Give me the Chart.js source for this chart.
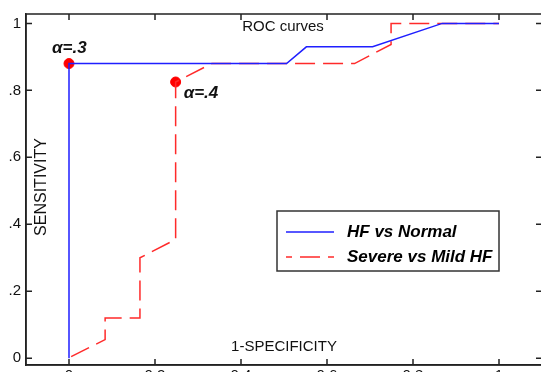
<!DOCTYPE html>
<html>
<head>
<meta charset="utf-8">
<style>
  html, body { margin: 0; padding: 0; background: #fff; overflow: hidden; }
</style>
</head>
<body>
<canvas id="rocChart" width="548" height="392"></canvas>
<script src="https://cdn.jsdelivr.net/npm/chart.js"></script>
<script>
    // ROC curve points (1-specificity, sensitivity)
    const hfNormalX = [0, 0, 0.506, 0.552, 0.706, 0.868, 1];
    const hfNormalY = [0, 0.88, 0.88, 0.93, 0.93, 1, 1];
    const severeMildX = [0.005, 0.084, 0.084, 0.165, 0.165, 0.248, 0.248, 0.332, 0.664, 0.749, 0.749, 1];
    const severeMildY = [0.005, 0.056, 0.12, 0.12, 0.30, 0.355, 0.825, 0.88, 0.88, 0.937, 1, 1];
    const seriesNames = ['HF vs Normal', 'Severe vs Mild HF'];

    // marked operating points and their labels
    const alphaX = [0, 0.248];
    const alphaY = [0.88, 0.825];
    const alphaLabels = ['\u03b1=.3', '\u03b1=.4'];

    const xTicks = [0, 0.2, 0.4, 0.6, 0.8, 1];
    const xTickLabels = ['0', '0.2', '0.4', '0.6', '0.8', '1'];
    const yTicks = [0, 0.2, 0.4, 0.6, 0.8, 1];
    const yTickLabels = ['0', '.2', '.4', '.6', '.8', '1'];

    const FONT = "Arial, 'Liberation Sans', sans-serif";
    const BLUE = '#1f1fff';
    const RED = '#ff2a2a';

    const toPts = (xs, ys) => xs.map((x, i) => ({ x: x, y: ys[i] }));

    const matlabAxes = {
        id: 'matlabAxes',
        afterDraw(chart) {
            const { ctx, chartArea: a, scales: { x, y } } = chart;
            ctx.save();
            // box + inward ticks
            ctx.strokeStyle = '#222';
            ctx.lineWidth = 1.5;
            ctx.strokeRect(a.left, a.top, a.right - a.left, a.bottom - a.top);
            ctx.beginPath();
            xTicks.forEach(v => {
                const px = x.getPixelForValue(v);
                ctx.moveTo(px, a.top); ctx.lineTo(px, a.top + 6);
                ctx.moveTo(px, a.bottom); ctx.lineTo(px, a.bottom - 6);
            });
            yTicks.forEach(v => {
                const py = y.getPixelForValue(v);
                ctx.moveTo(a.left, py); ctx.lineTo(a.left + 6, py);
                ctx.moveTo(a.right, py); ctx.lineTo(a.right - 6, py);
            });
            ctx.stroke();

            // titles inside the axes
            ctx.fillStyle = '#111';
            ctx.font = '15px ' + FONT;
            ctx.textAlign = 'center';
            ctx.textBaseline = 'middle';
            ctx.fillText('ROC curves', 283, 27);
            ctx.fillText('1-SPECIFICITY', 284, 347);
            ctx.save();
            ctx.translate(42, 187);
            ctx.rotate(-Math.PI / 2);
            ctx.font = '16px ' + FONT;
            ctx.fillText('SENSITIVITY', 0, 0);
            ctx.restore();

            // alpha labels next to markers
            ctx.font = 'bold italic 17px ' + FONT;
            ctx.textAlign = 'left';
            const offs = [[-17, -15], [8, 11]];
            alphaLabels.forEach((t, i) => {
                const px = x.getPixelForValue(alphaX[i]);
                const py = y.getPixelForValue(alphaY[i]);
                ctx.fillText(t, px + offs[i][0], py + offs[i][1]);
            });

            // legend box
            ctx.fillStyle = '#fff';
            ctx.fillRect(277, 211, 222, 60);
            ctx.strokeStyle = '#333';
            ctx.lineWidth = 1.5;
            ctx.strokeRect(277, 211, 222, 60);
            const ds = chart.data.datasets;
            [0, 1].forEach(i => {
                const ly = 232 + i * 25;
                ctx.strokeStyle = ds[i].borderColor;
                ctx.lineWidth = 1.5;
                ctx.setLineDash(ds[i].borderDash || []);
                ctx.lineDashOffset = i === 1 ? 14 : 0;
                ctx.beginPath();
                ctx.moveTo(286, ly); ctx.lineTo(334, ly);
                ctx.stroke();
                ctx.setLineDash([]);
                ctx.fillStyle = '#000';
                ctx.font = 'bold italic 17px ' + FONT;
                ctx.fillText(ds[i].label, 347, ly);
            });
            ctx.restore();
        }
    };

    new Chart(document.getElementById('rocChart'), {
        type: 'line',
        data: {
            datasets: [
                {
                    label: seriesNames[0],
                    data: toPts(hfNormalX, hfNormalY),
                    borderColor: BLUE,
                    borderWidth: 1.5,
                    pointRadius: 0,
                    tension: 0
                },
                {
                    label: seriesNames[1],
                    data: toPts(severeMildX, severeMildY),
                    borderColor: RED,
                    borderWidth: 1.5,
                    borderDash: [20, 8],
                    pointRadius: 0,
                    tension: 0
                },
                {
                    label: 'alpha',
                    data: toPts(alphaX, alphaY),
                    showLine: false,
                    pointRadius: 5,
                    pointBackgroundColor: '#ff0000',
                    pointBorderColor: '#ff0000',
                    borderColor: '#ff0000'
                }
            ]
        },
        options: {
            responsive: false,
            animation: false,
            layout: { padding: { top: 8, right: 5, left: 0, bottom: 0 } },
            plugins: { legend: { display: false }, tooltip: { enabled: false } },
            scales: {
                x: {
                    type: 'linear',
                    min: -0.1,
                    max: 1.1,
                    afterBuildTicks: s => { s.ticks = xTicks.map(v => ({ value: v })); },
                    afterFit: s => { s.height = 27; },
                    grid: { drawOnChartArea: false, drawTicks: false },
                    border: { color: '#222', width: 1.5 },
                    ticks: { padding: 2, color: '#111', font: { size: 15, family: FONT },
                             callback: (v, i) => xTickLabels[i], maxRotation: 0 }
                },
                y: {
                    type: 'linear',
                    min: -0.02,
                    max: 1.028,
                    afterBuildTicks: s => { s.ticks = yTicks.map(v => ({ value: v })); },
                    afterFit: s => { s.width = 26; },
                    grid: { drawOnChartArea: false, drawTicks: false },
                    border: { color: '#222', width: 1.5 },
                    ticks: { padding: 5, color: '#111', font: { size: 15, family: FONT },
                             callback: (v, i) => yTickLabels[i] }
                }
            }
        },
        plugins: [matlabAxes]
    });
</script>
</body>
</html>
